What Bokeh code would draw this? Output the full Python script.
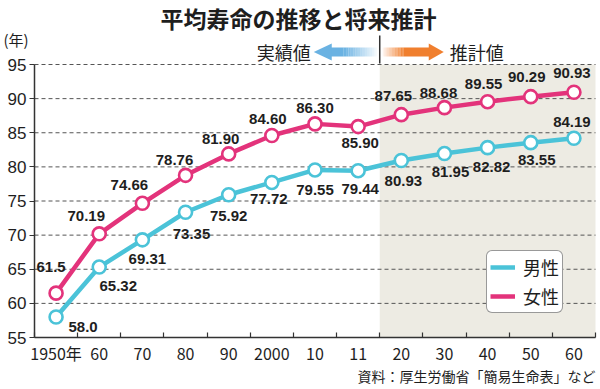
from bokeh.plotting import figure
from bokeh.models import (Range1d, FixedTicker, LinearAxis, ColumnDataSource,
                          Legend, LegendItem, Label)
from bokeh.core.properties import value
from bokeh.embed import file_html
from bokeh.resources import INLINE

# ---------------- data ----------------
years = ["1950年", "60", "70", "80", "90", "2000", "10", "11",
         "20", "30", "40", "50", "60"]
male = [58.0, 65.32, 69.31, 73.35, 75.92, 77.72, 79.55, 79.44,
        80.93, 81.95, 82.82, 83.55, 84.19]
female = [61.5, 70.19, 74.66, 78.76, 81.90, 84.60, 86.30, 85.90,
          87.65, 88.68, 89.55, 90.29, 90.93]
male_labels = ["58.0", "65.32", "69.31", "73.35", "75.92", "77.72", "79.55",
               "79.44", "80.93", "81.95", "82.82", "83.55", "84.19"]
female_labels = ["61.5", "70.19", "74.66", "78.76", "81.90", "84.60", "86.30",
                 "85.90", "87.65", "88.68", "89.55", "90.29", "90.93"]
y_ticks = [55, 60, 65, 70, 75, 80, 85, 90, 95]
n_actual = 8  # 1950..2011 are actual values, the rest are projections

title_text = "平均寿命の推移と将来推計"
unit_text = "(年)"
actual_text = "実績値"
proj_text = "推計値"
source_text = "資料：厚生労働省「簡易生命表」など"
legend_male = "男性"
legend_female = "女性"

# ---------------- styling / layout ----------------
W, H = 600, 389
X_LEFT, X_RIGHT = 34, 595      # px of plot area
Y95, Y55 = 64, 337             # px of top / bottom value
SX = (X_RIGHT - X_LEFT) / 13.0
SY = (Y55 - Y95) / 40.0
MALE_C = "#4BC3D8"
FEMALE_C = "#E3337B"
TXT_C = "#1e1e1e"
AX_C = "#333333"
SHADE_C = "#EDEBE3"
BLUE_C = "#6AB2E2"
ORANGE_C = "#F07F2E"
NUM_FONT = value("Liberation Sans")

x_start = -0.5 - X_LEFT / SX
x_end = 12.5 + (W - X_RIGHT) / SX
y_end = 95 + Y95 / SY
y_start = 55 - (H - Y55) / SY


def dxp(px):
    return -0.5 + (px - X_LEFT) / SX


def dyp(py):
    return 95 - (py - Y95) / SY


p = figure(width=W, height=H, output_backend="svg", toolbar_location=None,
           x_range=Range1d(x_start, x_end), y_range=Range1d(y_start, y_end),
           x_axis_type=None, y_axis_type=None, title=None,
           min_border=0, min_border_left=0, min_border_right=0,
           min_border_top=0, min_border_bottom=0)
p.outline_line_color = None
p.background_fill_color = "white"
p.border_fill_color = "white"

xs = list(range(len(years)))

# projection shading
p.quad(left=[n_actual - 0.5], right=[len(years) - 0.5], bottom=[y_ticks[0]],
       top=[y_ticks[-1]], fill_color=SHADE_C, line_color=None)

# dashed grid lines
gy = y_ticks[1:]
p.segment(x0=[-0.5] * len(gy), x1=[len(years) - 0.5] * len(gy), y0=gy, y1=gy,
          line_color="#555555", line_width=1, line_dash="4 3")

# axes
yaxis = LinearAxis(ticker=FixedTicker(ticks=y_ticks), fixed_location=-0.5,
                   bounds=(y_ticks[0], y_ticks[-1]))
yaxis.axis_line_color = AX_C
yaxis.axis_line_width = 1.5
yaxis.major_tick_line_color = AX_C
yaxis.major_tick_line_width = 1.2
yaxis.major_tick_in = 0
yaxis.major_tick_out = 5
yaxis.minor_tick_line_color = None
yaxis.major_label_standoff = 3
yaxis.major_label_text_font = "Liberation Sans"
yaxis.major_label_text_font_size = "17px"
yaxis.major_label_text_color = TXT_C
p.add_layout(yaxis, "left")

xaxis_ticks = LinearAxis(ticker=FixedTicker(ticks=[i - 0.5 for i in range(len(years) + 1)]),
                         fixed_location=y_ticks[0], bounds=(-0.5, len(years) - 0.5))
xaxis_ticks.axis_line_color = AX_C
xaxis_ticks.axis_line_width = 1.5
xaxis_ticks.major_tick_line_color = AX_C
xaxis_ticks.major_tick_line_width = 1.2
xaxis_ticks.major_tick_in = 5
xaxis_ticks.major_tick_out = 0
xaxis_ticks.minor_tick_line_color = None
xaxis_ticks.major_label_text_color = None
p.add_layout(xaxis_ticks, "below")

xaxis_lab = LinearAxis(ticker=FixedTicker(ticks=xs), fixed_location=y_ticks[0],
                       major_label_overrides={i: years[i] for i in xs})
xaxis_lab.axis_line_color = None
xaxis_lab.major_tick_line_color = None
xaxis_lab.major_tick_in = 0
xaxis_lab.major_tick_out = 0
xaxis_lab.minor_tick_line_color = None
xaxis_lab.major_label_standoff = 3
xaxis_lab.major_label_text_font = "Noto Sans CJK JP"
xaxis_lab.major_label_text_font_size = "16px"
xaxis_lab.major_label_text_color = TXT_C
p.add_layout(xaxis_lab, "below")

# series
male_line = p.line(xs, male, line_color=MALE_C, line_width=4.5, line_join="round")
female_line = p.line(xs, female, line_color=FEMALE_C, line_width=4.5, line_join="round")
p.scatter(xs, male, marker="circle", size=13, fill_color="white",
          line_color=MALE_C, line_width=2.6)
p.scatter(xs, female, marker="circle", size=13, fill_color="white",
          line_color=FEMALE_C, line_width=2.6)

# value labels (offsets in px)
female_dx = [-5, -13, -13, -11, -8, -4, 0, 2, -8, -6, -4, -4, -2]
female_dy = [-26, -18, -18, -15, -15, -16, -16, 16, -19, -15, -18, -20, -19]
male_dx = [27, 19, 5, 6, 0, -3, 0, 2, 2, 6, 4, 6, -2]
male_dy = [10, 19, 19, 22, 21, 17, 20, 18, 20, 18, 19, 17, -16]

lab_src = ColumnDataSource(dict(
    x=xs + xs, y=female + male, t=female_labels + male_labels,
    dx=female_dx + male_dx, dy=female_dy + male_dy))
p.text(x="x", y="y", text="t", x_offset="dx", y_offset="dy", source=lab_src,
       text_align="center", text_baseline="middle", text_font_size="15px",
       text_font=NUM_FONT, text_font_style="bold", text_color=TXT_C)

# legend
legend = Legend(items=[LegendItem(label=legend_male, renderers=[male_line]),
                       LegendItem(label=legend_female, renderers=[female_line])],
                location=(486, H - 313), orientation="vertical",
                glyph_width=25, glyph_height=20, label_height=20,
                spacing=3, padding=3, margin=0, label_standoff=8,
                label_text_font="Noto Sans CJK JP", label_text_font_size="18px",
                label_text_color=TXT_C,
                border_line_color=AX_C, border_line_width=1.5,
                background_fill_color="white", background_fill_alpha=1)
legend.border_radius = 6
p.add_layout(legend)

# ---- header decorations: arrows ----
div_x = X_LEFT + n_actual * SX
ay = 51.5
p.segment(x0=[dxp(div_x)], x1=[dxp(div_x)], y0=[dyp(35)], y1=[dyp(63)],
          line_color=AX_C, line_width=1.5)


def grad_quads(x_from, x_to, a_from, a_to, n=14):
    L, R, A = [], [], []
    for i in range(n):
        l = x_from + (x_to - x_from) * i / n
        r = x_from + (x_to - x_from) * (i + 1) / n
        L.append(dxp(l)); R.append(dxp(r))
        A.append(a_from + (a_to - a_from) * (i + 0.5) / n)
    return L, R, A


# blue (left) arrow
bx_tip, bx_base, bx_solid, bx_end = div_x - 66, div_x - 48, div_x - 36, div_x - 3
p.quad(left=[dxp(bx_base - 1)], right=[dxp(bx_solid)], top=[dyp(ay - 4.5)], bottom=[dyp(ay + 4.5)],
       fill_color=BLUE_C, line_color=None)
L, R, A = grad_quads(bx_solid, bx_end, 1.0, 0.05)
p.quad(left=L, right=R, top=[dyp(ay - 4.5)] * len(L), bottom=[dyp(ay + 4.5)] * len(L),
       fill_color=BLUE_C, fill_alpha=A, line_color=None)
p.patch([dxp(bx_tip), dxp(bx_base), dxp(bx_base)], [dyp(ay), dyp(ay - 8.5), dyp(ay + 8.5)],
        fill_color=BLUE_C, line_color=None)

# orange (right) arrow
ox_start, ox_solid, ox_base, ox_tip = div_x + 3, div_x + 24, div_x + 49, div_x + 64
L, R, A = grad_quads(ox_start, ox_solid, 0.05, 1.0)
p.quad(left=L, right=R, top=[dyp(ay - 4.5)] * len(L), bottom=[dyp(ay + 4.5)] * len(L),
       fill_color=ORANGE_C, fill_alpha=A, line_color=None)
p.quad(left=[dxp(ox_solid)], right=[dxp(ox_base + 1)], top=[dyp(ay - 4.5)], bottom=[dyp(ay + 4.5)],
       fill_color=ORANGE_C, line_color=None)
p.patch([dxp(ox_tip), dxp(ox_base), dxp(ox_base)], [dyp(ay), dyp(ay - 8.5), dyp(ay + 8.5)],
        fill_color=ORANGE_C, line_color=None)


def add_label(text, px, py, size, align="left", bold=False, font="Noto Sans CJK JP"):
    p.add_layout(Label(x=dxp(px), y=dyp(py), text=text, text_align=align,
                       text_baseline="middle", text_font=font,
                       text_font_size=size, text_color=TXT_C,
                       text_font_style="bold" if bold else "normal"))


add_label(actual_text, div_x - 69, ay, "18px", align="right")
add_label(proj_text, div_x + 70, ay, "18px", align="left")
add_label(title_text, 298, 17, "23px", align="center", bold=True)
add_label(unit_text, 3, 39, "15px", align="left")
add_label(source_text, 595, 375, "14px", align="right")

open("out.html", "w").write(file_html(p, INLINE))
